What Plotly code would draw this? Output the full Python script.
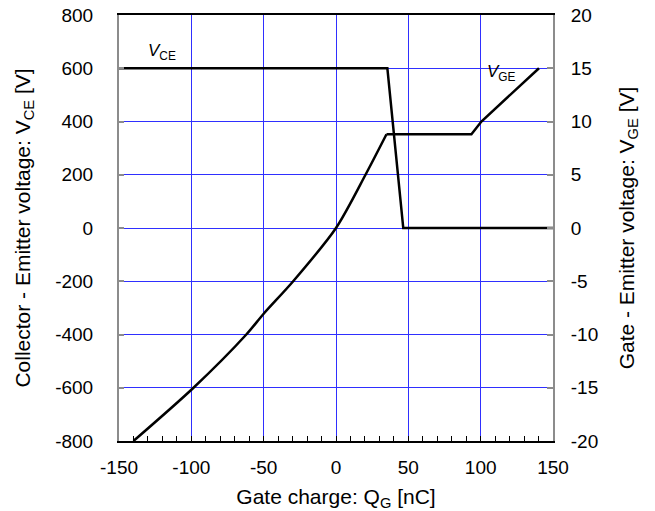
import plotly.graph_objects as go

# Gate charge axis [nC]
qg_vce = [-150, 35.5, 46.5, 150]
vce = [600, 600, 0, 0]

qg_vge = [-140, -98.5, -62, -50, -29.6, 0, 20.4, 34.9, 93.6, 100.5, 140.3]
vge = [-20, -15, -10, -8.05, -5, 0, 5, 8.8, 8.8, 10, 15]

x_ticks = [-150, -100, -50, 0, 50, 100, 150]
x_ticktext = ["-150", "-100", "-50", "0", "50", "100", "150"]
y1_ticks = [-800, -600, -400, -200, 0, 200, 400, 600, 800]
y1_ticktext = ["-800", "-600", "-400", "-200", "0", "200", "400", "600", "800"]
y2_ticks = [-20, -15, -10, -5, 0, 5, 10, 15, 20]
y2_ticktext = ["-20", "-15", "-10", "-5", "0", "5", "10", "15", "20"]

FONT = "Liberation Sans, Arial, sans-serif"
BLUE = "#2f2fff"
GRAY = "#8c8c8c"

k = qg_vge.index(34.9)

fig = go.Figure()
fig.add_trace(go.Scatter(x=qg_vce, y=vce, mode="lines", line=dict(color="black", width=2.5),
                         yaxis="y", showlegend=False, hoverinfo="skip"))
fig.add_trace(go.Scatter(x=qg_vge[:k + 1], y=vge[:k + 1], mode="lines",
                         line=dict(color="black", width=2.5, shape="spline", smoothing=0.8),
                         yaxis="y2", showlegend=False, hoverinfo="skip"))
fig.add_trace(go.Scatter(x=qg_vge[k:], y=vge[k:], mode="lines",
                         line=dict(color="black", width=2.5),
                         yaxis="y2", showlegend=False, hoverinfo="skip"))

fig.add_annotation(x=-120.5, y=660, xref="x", yref="y", text="<i>V</i><sub>CE</sub>",
                   showarrow=False, font=dict(family=FONT, size=17, color="black"))
fig.add_annotation(x=114.5, y=14.55, xref="x", yref="y2", text="<i>V</i><sub>GE</sub>",
                   showarrow=False, font=dict(family=FONT, size=17, color="black"))

fig.update_layout(
    width=655, height=511,
    margin=dict(l=119, r=102, t=15, b=70),
    paper_bgcolor="white", plot_bgcolor="white",
    font=dict(family=FONT, size=19, color="black"),
    xaxis=dict(range=[-150, 150], tickvals=x_ticks, ticktext=x_ticktext,
               showgrid=True, gridcolor=BLUE, gridwidth=1.4,
               ticks="inside", ticklen=5, tickcolor="black", tickwidth=1.2,
               minor=dict(dtick=10, tick0=0, ticks="inside", ticklen=5, tickcolor="black", tickwidth=1.2, showgrid=False),
               showline=True, linecolor="black", linewidth=2, mirror=True,
               zeroline=False, ticklabelstandoff=8, ticklabeloverflow="allow", automargin=False,
               title=dict(text="Gate charge: Q<sub>G</sub> [nC]", font=dict(size=21), standoff=14),
               tickfont=dict(size=19)),
    yaxis=dict(range=[-800, 800], tickvals=y1_ticks, ticktext=y1_ticktext,
               showgrid=True, gridcolor=BLUE, gridwidth=1.4,
               ticks="inside", ticklen=5, tickcolor=GRAY, tickwidth=2,
               showline=True, linecolor=GRAY, linewidth=2,
               zeroline=False, ticklabelstandoff=20, ticklabeloverflow="allow", automargin=False,
               title=dict(text="Collector - Emitter voltage: V<sub>CE</sub> [V]", font=dict(size=21), standoff=19),
               tickfont=dict(size=19)),
    yaxis2=dict(range=[-20, 20], tickvals=y2_ticks, ticktext=y2_ticktext,
                overlaying="y", side="right", showgrid=False,
                ticks="inside", ticklen=6, tickcolor=GRAY, tickwidth=2,
                showline=True, linecolor=GRAY, linewidth=2,
                zeroline=False, ticklabelstandoff=12, ticklabeloverflow="allow", automargin=False,
                title=dict(text="Gate - Emitter voltage: V<sub>GE</sub> [V]", font=dict(size=21), standoff=22),
                tickfont=dict(size=19)),
)

fig.write_html("out.html", config={"displayModeBar": False},
               post_script="document.body.style.margin='0';")
